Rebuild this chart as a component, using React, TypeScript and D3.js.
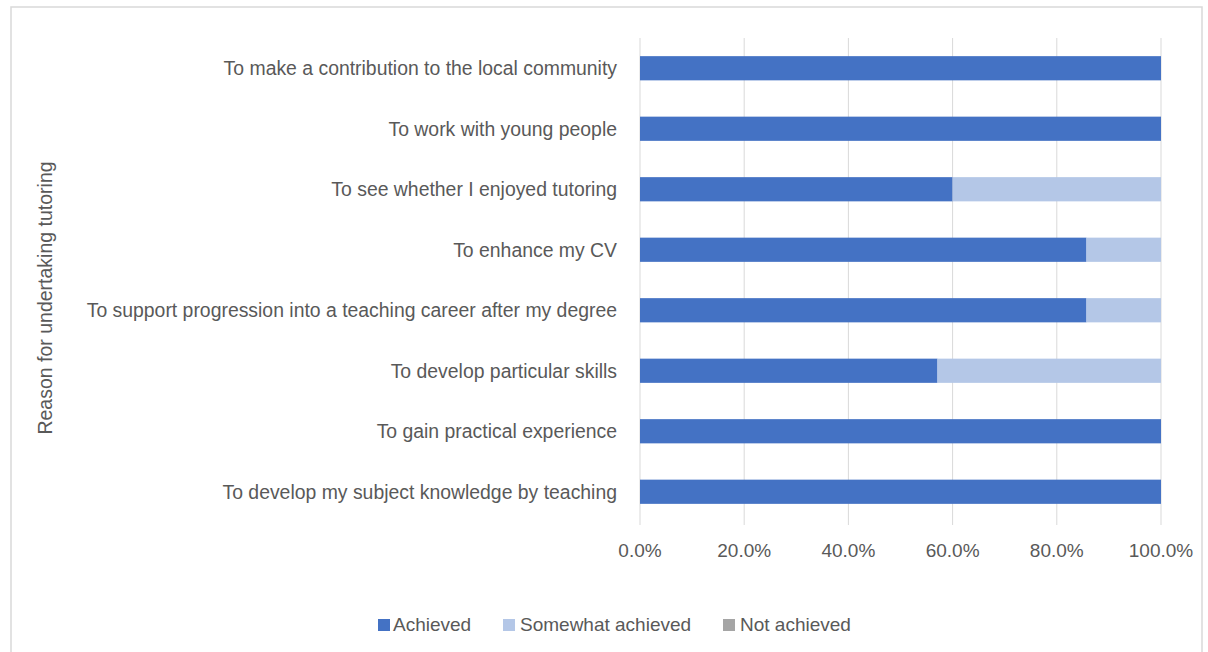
import React from "react";
import * as d3 from "d3";

const categories = [
  "To make a contribution to the local community",
  "To work with young people",
  "To see whether I enjoyed tutoring",
  "To enhance my CV",
  "To support progression into a teaching career after my degree",
  "To develop particular skills",
  "To gain practical experience",
  "To develop my subject knowledge by teaching",
];
const achieved = [100, 100, 60, 85.7, 85.7, 57.1, 100, 100];
const somewhatAchieved = [0, 0, 40, 14.3, 14.3, 42.9, 0, 0];
const notAchieved = [0, 0, 0, 0, 0, 0, 0, 0];
const seriesNames = ["Achieved", "Somewhat achieved", "Not achieved"];
const seriesColors = ["#4472C4", "#B4C7E7", "#A5A5A5"];
const xTicks = [0, 20, 40, 60, 80, 100];
const axisTitle = "Reason for undertaking tutoring";

const W = 1208;
const H = 652;
const M = { left: 640, right: 47, top: 38, bottom: 130 };
const FONT = "'Liberation Sans', Arial, sans-serif";
const TXT = "#595959";

export default function App() {
  const x = d3.scaleLinear().domain([0, 100]).range([M.left, W - M.right]);
  const y = d3
    .scaleBand<string>()
    .domain(categories)
    .range([M.top, H - M.bottom])
    .paddingInner(0.6)
    .paddingOuter(0.3);

  const rows = categories.map((c, i) => ({
    c,
    vals: [achieved[i], somewhatAchieved[i], notAchieved[i]],
  }));
  const stacked = rows.map((r) => {
    let acc = 0;
    return r.vals.map((v, k) => {
      const s = { x0: acc, x1: acc + v, k };
      acc += v;
      return s;
    });
  });

  const legendItems = [
    { sx: 378, tx: 393 },
    { sx: 503, tx: 520 },
    { sx: 723, tx: 740 },
  ];

  return (
    <svg
      width={W}
      height={H}
      style={{ position: "fixed", left: 0, top: 0, background: "#fff" }}
      fontFamily={FONT}
    >
      <rect x={11} y={7} width={1191} height={660} fill="#fff" stroke="#d9d9d9" strokeWidth={1.5} />
      {xTicks.map((t) => (
        <line
          key={t}
          x1={x(t)}
          x2={x(t)}
          y1={M.top}
          y2={H - M.bottom + 3}
          stroke="#d9d9d9"
          strokeWidth={1}
        />
      ))}
      {rows.map((r, i) =>
        stacked[i].map((s) =>
          s.x1 > s.x0 ? (
            <rect
              key={r.c + s.k}
              x={x(s.x0)}
              y={y(r.c)!}
              width={x(s.x1) - x(s.x0)}
              height={y.bandwidth()}
              fill={seriesColors[s.k]}
            />
          ) : null
        )
      )}
      {categories.map((c) => (
        <text
          key={c}
          x={M.left - 23}
          y={y(c)! + y.bandwidth() / 2}
          dy="0.35em"
          textAnchor="end"
          fontSize={19.4}
          fill={TXT}
        >
          {c}
        </text>
      ))}
      {xTicks.map((t) => (
        <text key={t} x={x(t)} y={557} textAnchor="middle" fontSize={19} fill={TXT}>
          {d3.format(".1f")(t) + "%"}
        </text>
      ))}
      <text
        transform={`translate(52, ${298}) rotate(-90)`}
        textAnchor="middle"
        fontSize={19.5}
        fill={TXT}
      >
        {axisTitle}
      </text>
      {seriesNames.map((n, k) => (
        <g key={n}>
          <rect x={legendItems[k].sx} y={619} width={12} height={12} fill={seriesColors[k]} />
          <text x={legendItems[k].tx} y={631} fontSize={19} fill={TXT}>
            {n}
          </text>
        </g>
      ))}
    </svg>
  );
}
